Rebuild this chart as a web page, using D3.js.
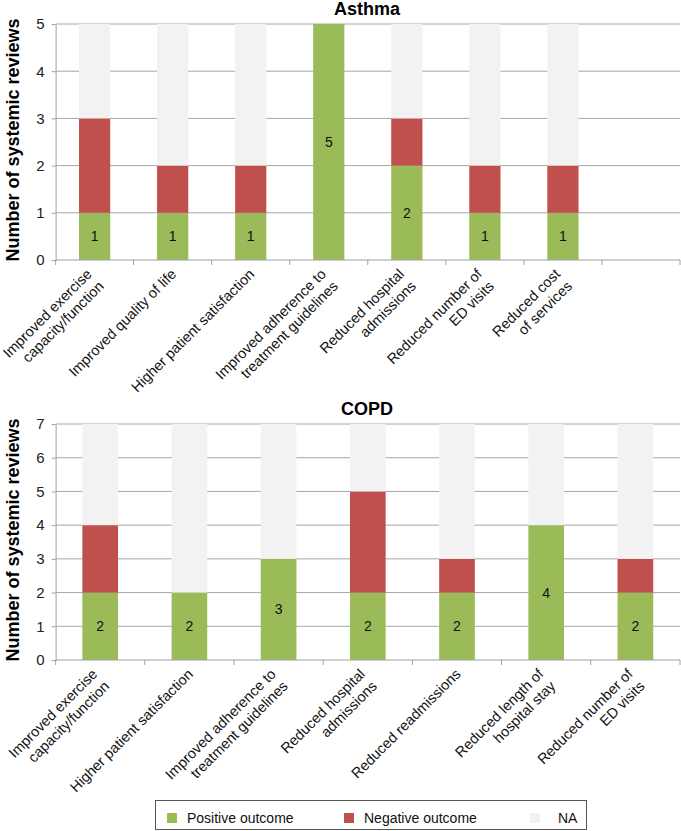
<!DOCTYPE html>
<html>
<head>
<meta charset="utf-8">
<script src="https://cdn.jsdelivr.net/npm/d3@7"></script>
<style>
  html, body { margin: 0; padding: 0; background: #fff; }
  svg { display: block; font-family: "Liberation Sans", Arial, sans-serif; }
</style>
</head>
<body>
<svg id="chart" width="681" height="831"></svg>
<script>
// ---- Data ----
const asthmaCategories = [
  ["Improved exercise", "capacity/function"],
  ["Improved quality of life"],
  ["Higher patient satisfaction"],
  ["Improved adherence to", "treatment guidelines"],
  ["Reduced hospital", "admissions"],
  ["Reduced number of", "ED visits"],
  ["Reduced cost", "of services"],
  [""]
];
const asthmaPositive = [1, 1, 1, 5, 2, 1, 1, null];
const asthmaNegative = [2, 1, 1, 0, 1, 1, 1, null];
const asthmaNA       = [2, 3, 3, 0, 2, 3, 3, null];
const asthmaTicks = [0, 1, 2, 3, 4, 5];

const copdCategories = [
  ["Improved exercise", "capacity/function"],
  ["Higher patient satisfaction"],
  ["Improved adherence to", "treatment guidelines"],
  ["Reduced hospital", "admissions"],
  ["Reduced readmissions"],
  ["Reduced length of", "hospital stay"],
  ["Reduced number of", "ED visits"]
];
const copdPositive = [2, 2, 3, 2, 2, 4, 2];
const copdNegative = [2, 0, 0, 3, 1, 0, 1];
const copdNA       = [3, 5, 4, 2, 4, 3, 4];
const copdTicks = [0, 1, 2, 3, 4, 5, 6, 7];

const seriesKeys = ["Positive outcome", "Negative outcome", "NA"];
const seriesColors = ["#9bbb59", "#c0504d", "#f2f2f2"];

// ---- Drawing ----
const svg = d3.select("#chart");
const gridColor = "#a6a6a6";
const axisColor = "#a0a0a0";

function drawPanel(opts) {
  const { title, cats, pos, neg, na, ticks, top, bottom, titleY, labelY } = opts;
  const left = 55.6, right = 680;
  const n = cats.length;
  const idx = d3.range(n);
  const rows = idx.map(i => ({ i, "Positive outcome": pos[i] || 0, "Negative outcome": neg[i] || 0, "NA": na[i] || 0, empty: pos[i] == null }));

  const slot = d3.scaleBand().domain(idx).range([left, right]).padding(0);
  const xb = d3.scaleBand().domain(idx).range([left, right]).paddingInner(0.6).paddingOuter(0.3);
  const y = d3.scaleLinear().domain([0, d3.max(ticks)]).range([bottom, top]);

  const g = svg.append("g");

  // gridlines
  g.append("g").selectAll("line").data(ticks.filter(t => t > 0)).join("line")
    .attr("x1", left).attr("x2", right)
    .attr("y1", d => y(d)).attr("y2", d => y(d))
    .attr("stroke", gridColor).attr("stroke-width", 1);

  // stacked bars
  const stacked = d3.stack().keys(seriesKeys)(rows.filter(r => !r.empty));
  g.append("g").selectAll("g").data(stacked).join("g")
    .attr("fill", (d, k) => seriesColors[k])
    .selectAll("rect").data(d => d).join("rect")
    .attr("x", d => xb(d.data.i))
    .attr("width", xb.bandwidth())
    .attr("y", d => y(d[1]))
    .attr("height", d => y(d[0]) - y(d[1]));

  // data labels on positive segments
  g.append("g").selectAll("text").data(stacked[0]).join("text")
    .attr("x", d => xb(d.data.i) + xb.bandwidth() / 2)
    .attr("y", d => y((d[0] + d[1]) / 2))
    .attr("text-anchor", "middle")
    .attr("dominant-baseline", "central")
    .attr("font-size", 14)
    .attr("fill", "#111")
    .text(d => d.data["Positive outcome"]);

  // y axis
  const yAxis = d3.axisLeft(y).tickValues(ticks).tickFormat(d3.format("d"))
    .tickSize(4).tickSizeOuter(0).tickPadding(7);
  const ya = g.append("g").attr("transform", `translate(${left},0)`).call(yAxis);
  ya.select(".domain").attr("stroke", axisColor);
  ya.selectAll(".tick line").attr("stroke", axisColor);
  ya.selectAll(".tick text").attr("font-size", 15).attr("fill", "#222")
    .attr("font-family", "Liberation Sans, Arial, sans-serif");

  // x axis line with ticks at category boundaries
  g.append("line").attr("x1", left).attr("x2", right).attr("y1", bottom).attr("y2", bottom)
    .attr("stroke", axisColor);
  const bounds = idx.map(i => slot(i)).concat([right]);
  g.append("g").selectAll("line").data(bounds).join("line")
    .attr("x1", d => d).attr("x2", d => d)
    .attr("y1", bottom).attr("y2", bottom + 5)
    .attr("stroke", axisColor);

  // category labels, rotated -45
  const lh = 17;
  const lab = g.append("g").selectAll("g").data(idx).join("g")
    .attr("transform", i => {
      const nl = cats[i].length;
      const cx = slot(i) + slot.bandwidth() / 2;
      return `translate(${cx + 4.6 - (nl - 1) * 6.5},${bottom + 15}) rotate(-45)`;
    });
  lab.selectAll("text").data(i => cats[i]).join("text")
    .attr("x", 0).attr("y", (d, j) => j * lh)
    .attr("text-anchor", "end")
    .attr("font-size", 14.5)
    .attr("fill", "#111")
    .text(d => d);

  // title
  svg.append("text").attr("x", 367).attr("y", titleY)
    .attr("text-anchor", "middle").attr("font-weight", "bold").attr("font-size", 18)
    .attr("fill", "#000").text(title);

  // y-axis title
  svg.append("text")
    .attr("transform", `translate(13,${labelY}) rotate(-90)`)
    .attr("text-anchor", "middle").attr("dominant-baseline", "central")
    .attr("font-weight", "bold").attr("font-size", 18).attr("fill", "#000")
    .text("Number of systemic reviews");
}

drawPanel({ title: "Asthma", cats: asthmaCategories, pos: asthmaPositive, neg: asthmaNegative, na: asthmaNA,
  ticks: asthmaTicks, top: 24, bottom: 260, titleY: 15, labelY: 140 });
drawPanel({ title: "COPD", cats: copdCategories, pos: copdPositive, neg: copdNegative, na: copdNA,
  ticks: copdTicks, top: 424, bottom: 660, titleY: 415, labelY: 540 });

// legend
const legend = svg.append("g");
legend.append("rect").attr("x", 155.5).attr("y", 800.5).attr("width", 431).attr("height", 29)
  .attr("fill", "#fff").attr("stroke", "#555").attr("stroke-width", 1);
const legendX = [167, 344, 530];
const li = legend.selectAll("g.item").data(seriesKeys).join("g").attr("class", "item")
  .attr("transform", (d, k) => `translate(${legendX[k]},813)`);
li.append("rect").attr("width", 10).attr("height", 10).attr("fill", (d, k) => seriesColors[k]);
li.append("text").attr("x", (d, k) => k === 2 ? 28 : 20).attr("y", 10)
  .attr("font-size", 14).attr("fill", "#111").text(d => d);
</script>
</body>
</html>
